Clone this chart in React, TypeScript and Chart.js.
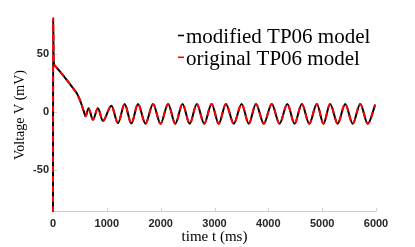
import { useEffect, useRef } from "react";
import { Chart, registerables } from "chart.js";

Chart.register(...registerables);

// time (ms)
const timeMs = [
  0, 3, 12, 30, 120, 250, 350, 450, 520, 570, 605,
  661, 741, 834, 927, 1084, 1207, 1331, 1455, 1579, 1718,
  1858, 1998, 2138, 2272, 2406, 2539, 2672, 2809, 2946, 3079,
  3212, 3358, 3504, 3637, 3770, 3916, 4063, 4208, 4353, 4487,
  4622, 4761, 4901, 5024, 5148, 5288, 5428, 5567, 5707, 5846, 5986,
];

// membrane voltage (mV), modified TP06 model
const modifiedV = [
  -86, 81, 45, 40.3, 35.5, 28, 22, 15.5, 8, 1, -3.5,
  3.4, -6.6, 3.4, -7.5, 5.4, -9.5, 6.9, -9.8, 7, -10,
  7, -10, 7, -10, 7, -10, 7, -10, 7, -10,
  7, -10, 7, -10, 7, -10, 7, -10, 7, -10,
  7, -10, 7, -10, 7, -10, 7, -10, 7, -10, 6.5,
];

// membrane voltage (mV), original TP06 model (overlaps the modified one)
const originalV = [
  -86, 81, 45, 40.3, 35.5, 28, 22, 15.5, 8, 1, -3.5,
  3.4, -6.6, 3.4, -7.5, 5.4, -9.5, 6.9, -9.8, 7, -10,
  7, -10, 7, -10, 7, -10, 7, -10, 7, -10,
  7, -10, 7, -10, 7, -10, 7, -10, 7, -10,
  7, -10, 7, -10, 7, -10, 7, -10, 7, -10, 6.5,
];

const xTicks = [0, 1000, 2000, 3000, 4000, 5000, 6000];
const yTicks = [-50, 0, 50];
const seriesLabels = ["modified TP06 model", "original TP06 model"];
const seriesColors = ["#000000", "#ff0000"];
const xTitle = "time t (ms)";
const yTitle = "Voltage V (mV)";

export default function App() {
  const ref = useRef<HTMLCanvasElement>(null);

  useEffect(() => {
    if (!ref.current) return;
    const axisGray = "#cdcdcd";

    const axesPlugin = {
      id: "matlabAxes",
      beforeDatasetsDraw(chart: any) {
        const { ctx, chartArea: a, scales } = chart;
        ctx.save();
        ctx.strokeStyle = axisGray;
        ctx.lineWidth = 1;
        ctx.beginPath();
        const by = Math.round(a.bottom) - 0.5;
        const lx = Math.round(a.left) + 0.5;
        ctx.moveTo(a.left, by);
        ctx.lineTo(a.right, by);
        ctx.moveTo(lx, a.top);
        ctx.lineTo(lx, a.bottom);
        for (const v of xTicks) {
          const px = Math.round(scales.x.getPixelForValue(v)) + 0.5;
          ctx.moveTo(px, by);
          ctx.lineTo(px, by - 3.5);
        }
        for (const v of yTicks) {
          const py = Math.round(scales.y.getPixelForValue(v)) + 0.5;
          ctx.moveTo(lx, py);
          ctx.lineTo(lx + 3.5, py);
        }
        ctx.stroke();
        ctx.restore();
      },
    };

    const legendPlugin = {
      id: "texLegend",
      afterDraw(chart: any) {
        const { ctx } = chart;
        ctx.save();
        ctx.font = '21px "Liberation Serif"';
        ctx.textBaseline = "alphabetic";
        ctx.textAlign = "left";
        const rows = [42.7, 64.5];
        chart.data.datasets.forEach((ds: any, i: number) => {
          const y = rows[i];
          ctx.fillStyle = ds.borderColor;
          ctx.fillRect(178, y - 8, 6, 1.6);
          ctx.fillStyle = "#000000";
          ctx.fillText(ds.label, 186, y);
        });
        ctx.restore();
      },
    };

    const chart = new Chart(ref.current, {
      type: "line",
      data: {
        labels: timeMs,
        datasets: [
          {
            label: seriesLabels[0],
            data: timeMs.map((t, i) => ({ x: t, y: modifiedV[i] })),
            borderColor: seriesColors[0],
            borderWidth: 2,
            pointRadius: 0,
            cubicInterpolationMode: "monotone",
            clip: 4,
            order: 2,
          },
          {
            label: seriesLabels[1],
            data: timeMs.map((t, i) => ({ x: t, y: originalV[i] })),
            borderColor: seriesColors[1],
            borderWidth: 2,
            borderDash: [6, 4],
            pointRadius: 0,
            cubicInterpolationMode: "monotone",
            clip: 4,
            order: 1,
          },
        ],
      },
      options: {
        responsive: false,
        animation: false,
        events: [],
        layout: { padding: { left: 0, top: 18, right: 39, bottom: 0 } },
        plugins: {
          legend: { display: false },
          tooltip: { enabled: false },
        },
        scales: {
          x: {
            type: "linear",
            min: 0,
            max: 6000,
            grid: { display: false, drawTicks: false },
            border: { display: false },
            afterBuildTicks: (s: any) => {
              s.ticks = xTicks.map((v) => ({ value: v }));
            },
            afterFit: (s: any) => {
              s.height = 35;
            },
            ticks: {
              padding: 5,
              color: "#262626",
              font: { family: '"Liberation Sans"', size: 11, weight: "bold" },
              maxRotation: 0,
              callback: (v: any) => String(v),
            },
            title: {
              display: true,
              text: xTitle,
              color: "#000000",
              font: { family: '"Liberation Serif"', size: 15 },
              padding: { top: 0, bottom: 1 },
            },
          },
          y: {
            type: "linear",
            min: -86,
            max: 81,
            grid: { display: false, drawTicks: false },
            border: { display: false },
            afterBuildTicks: (s: any) => {
              s.ticks = yTicks.map((v) => ({ value: v }));
            },
            afterFit: (s: any) => {
              s.width = 53;
            },
            ticks: {
              padding: 4,
              color: "#262626",
              font: { family: '"Liberation Sans"', size: 11, weight: "bold" },
              callback: (v: any) => String(v),
            },
            title: {
              display: true,
              text: yTitle,
              color: "#000000",
              font: { family: '"Liberation Serif"', size: 14 },
              padding: { top: 12, bottom: 0 },
            },
          },
        },
      },
      plugins: [axesPlugin, legendPlugin],
    } as any);

    return () => chart.destroy();
  }, []);

  return (
    <div style={{ position: "fixed", left: 0, top: 0, width: 415, height: 247, background: "#ffffff" }}>
      <canvas ref={ref} width={415} height={247} style={{ display: "block" }} />
    </div>
  );
}
